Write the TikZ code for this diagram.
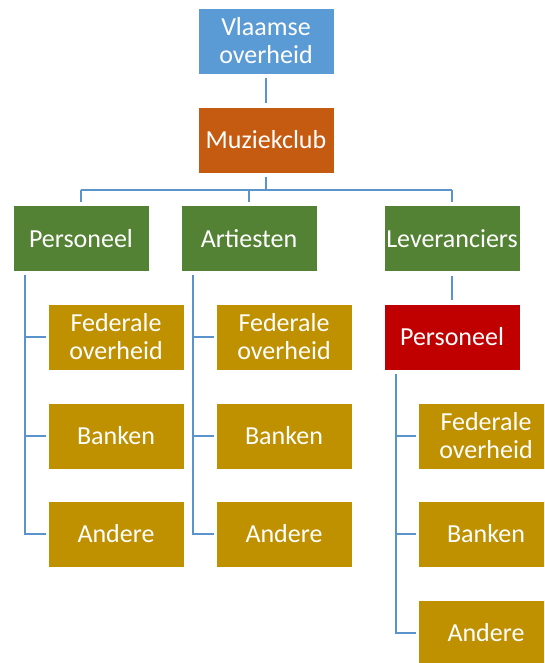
\documentclass[tikz,border=0pt]{standalone}
\usepackage{fontspec}
\setmainfont{Carlito}
\definecolor{cblue}{HTML}{5B9BD5}
\definecolor{corange}{HTML}{C55A11}
\definecolor{cgreen}{HTML}{548235}
\definecolor{cgold}{HTML}{BF9000}
\definecolor{cred}{HTML}{C00000}
\definecolor{cline}{HTML}{5B93CC}
\begin{document}
\begin{tikzpicture}[x=1pt,y=-1pt,
  box/.style={draw=white,line width=0.6pt,minimum width=136pt,minimum height=66pt,inner sep=0pt,
    text=white,align=center,font=\fontsize{26}{28}\selectfont},
  conn/.style={draw=cline,line width=2.5pt}]
\useasboundingbox (0,0) rectangle (544,663);
\clip (0,0) rectangle (544,663);
% boxes
\node[box,fill=cblue] (vla) at (266,41) {Vlaamse\\overheid};
\node[box,fill=corange] (muz) at (266,140) {Muziekclub};
\node[box,fill=cgreen] (pers) at (81,238.5) {Personeel};
\node[box,fill=cgreen] (art) at (249,238.5) {Artiesten};
\node[box,fill=cgreen] (lev) at (452,238.5) {Leveranciers};
\node[box,fill=cred] (rper) at (452,337) {Personeel};
\node[box,fill=cgold] (a1) at (116,337) {Federale\\overheid};
\node[box,fill=cgold] (a2) at (116,436) {Banken};
\node[box,fill=cgold] (a3) at (116,534) {Andere};
\node[box,fill=cgold] (b1) at (284,337) {Federale\\overheid};
\node[box,fill=cgold] (b2) at (284,436) {Banken};
\node[box,fill=cgold] (b3) at (284,534) {Andere};
\node[box,fill=cgold] (c1) at (486,436) {Federale\\overheid};
\node[box,fill=cgold] (c2) at (486,534) {Banken};
\node[box,fill=cgold] (c3) at (486,633) {Andere};
% coordinates
\coordinate (bus) at (266,190);
\coordinate (pl) at (25,272);
\coordinate (ml) at (193,272);
\coordinate (rl) at (396,370);
% connectors
\draw[conn,shorten <=4pt,shorten >=4pt] (vla) -- (muz);
\draw[conn,shorten <=4pt] (muz) -- (bus);
\draw[conn] (bus -| pers) -- (bus -| lev);
\draw[conn,shorten >=3pt] (bus -| pers) -- (pers);
\draw[conn,shorten >=3pt] (bus -| art) -- (art);
\draw[conn,shorten >=3pt] (bus -| lev) -- (lev);
\draw[conn,shorten <=4pt,shorten >=4pt] (lev) -- (rper);
% left column
\draw[conn,shorten <=3pt,shorten >=2pt] (pl) -- (pl |- a3) -- (a3);
\draw[conn,shorten >=2pt] (pl |- a1) -- (a1);
\draw[conn,shorten >=2pt] (pl |- a2) -- (a2);
% middle column
\draw[conn,shorten <=3pt,shorten >=2pt] (ml) -- (ml |- b3) -- (b3);
\draw[conn,shorten >=2pt] (ml |- b1) -- (b1);
\draw[conn,shorten >=2pt] (ml |- b2) -- (b2);
% right column
\draw[conn,shorten <=4pt,shorten >=2pt] (rl) -- (rl |- c3) -- (c3);
\draw[conn,shorten >=2pt] (rl |- c1) -- (c1);
\draw[conn,shorten >=2pt] (rl |- c2) -- (c2);
\end{tikzpicture}
\end{document}
